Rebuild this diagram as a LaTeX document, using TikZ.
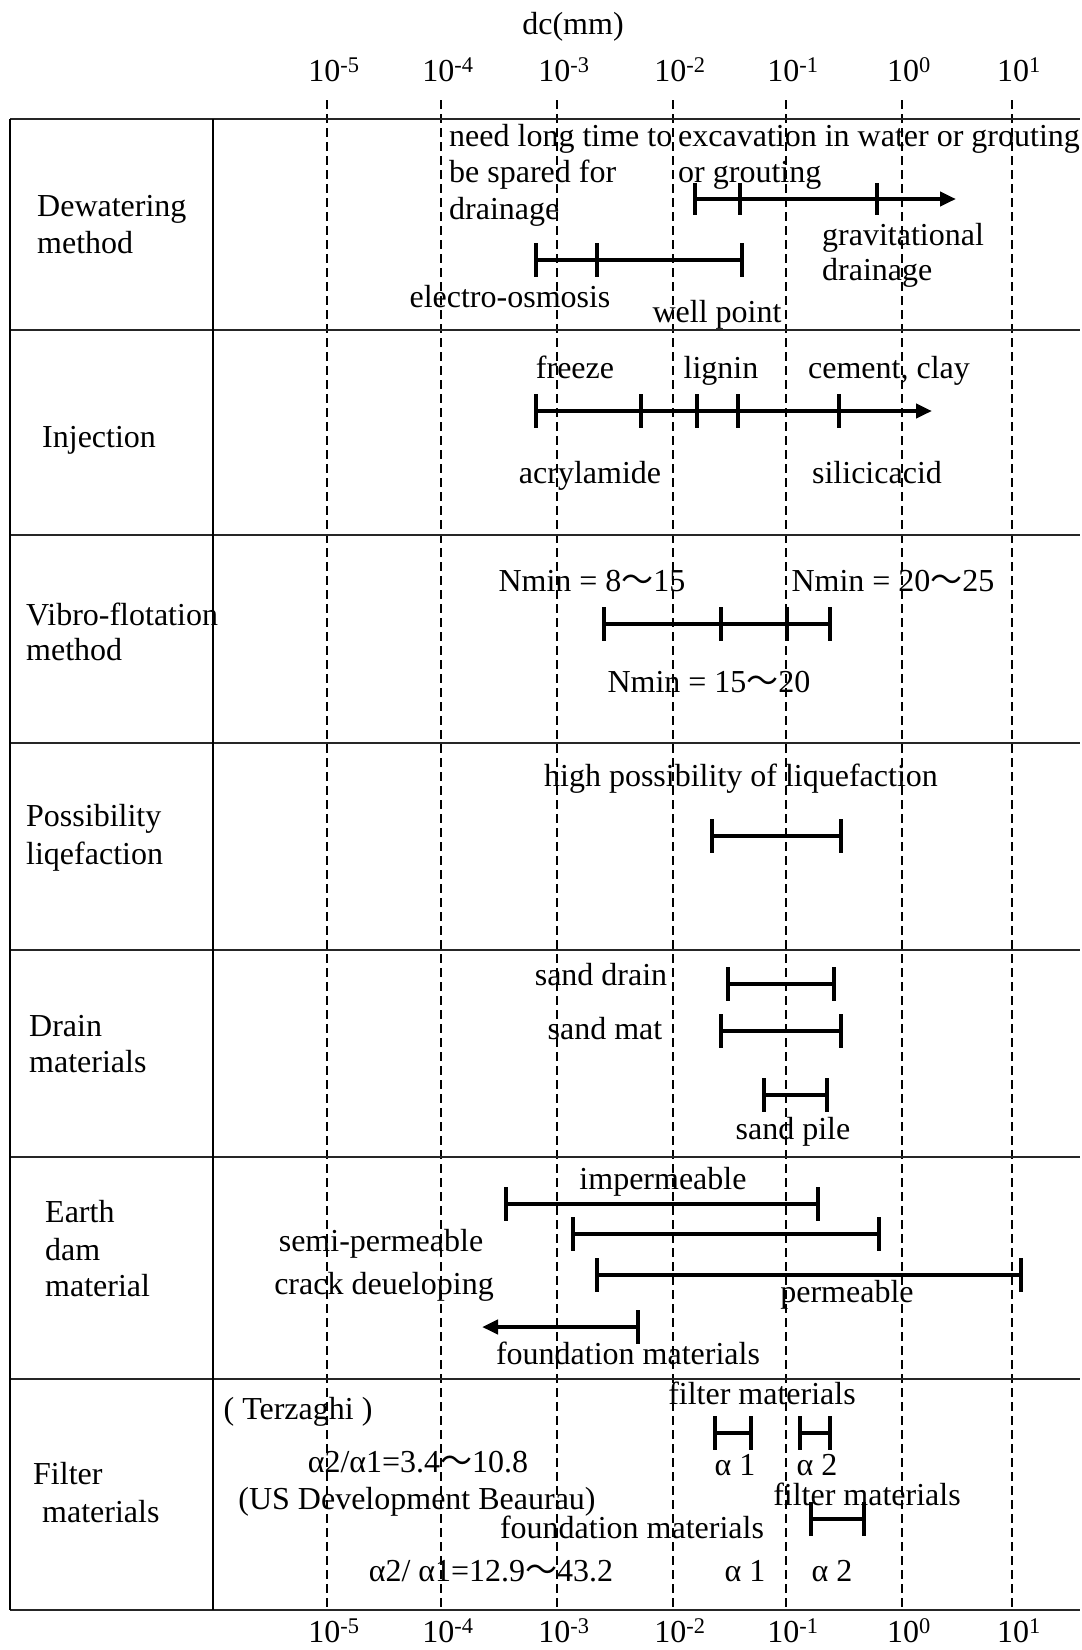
\documentclass[tikz,border=0pt]{standalone}
\usepackage{fontspec}
\setmainfont{Liberation Serif}
\newfontfamily\cjk{Noto Sans CJK SC}
\usetikzlibrary{arrows.meta}
\newcommand{\wave}{{\cjk ～}}

\begin{document}
\begin{tikzpicture}[x=1pt,y=-1pt,font=\fontsize{32}{37}\selectfont,
  rangebar/.style={line width=4.2pt},
  rangetick/.style={line width=3.3pt},
  gridline/.style={line width=1.3pt,dash pattern=on 9pt off 5pt},
  rowline/.style={line width=2.5pt,black!85},
  lbl/.style={inner sep=0pt,anchor=mid,yshift=-7.5pt},
  lft/.style={inner sep=0pt,anchor=mid west,yshift=-7.5pt},
  tip/.style={-{Triangle[length=16pt,width=14pt]}}]

\useasboundingbox (0,0) rectangle (1082,1650);

% axes
\node[lbl] (dc) at (573,25) {dc(mm)};
\foreach \e/\xx in {-5/327,-4/441,-3/557,-2/673,-1/786,0/902,1/1012}{
  \draw[gridline] (\xx,100) -- (\xx,1610);
  \node[lbl] (top\xx) at (\xx+7,72) {10\textsuperscript{\e}};
  \node[lbl] (bot\xx) at (\xx+7,1633) {10\textsuperscript{\e}};
}

% table
\foreach \yy in {119,330,535,743,950,1157,1379,1610}
  \draw[rowline] (10,\yy) -- (1080,\yy);
\draw[line width=1.5pt] (10,119) -- (10,1610);
\draw[line width=1.5pt] (213,119) -- (213,1610);

% dewatering
\node[lft] (dew1) at (37,207) {Dewatering};
\node[lft] (dew2) at (37,244) {method};
\node[lft] (need1) at (449,137) {need long time to};
\node[lft] (need2) at (449,173) {be spared for};
\node[lft] (need3) at (449,210) {drainage};
\node[lft] (exc1) at (678,137) {excavation in water or grouting};
\node[lft] (exc2) at (678,173) {or grouting};
\node[lft] (grav1) at (822,236) {gravitational};
\node[lft] (grav2) at (822,271) {drainage};
\node[lbl] (electro) at (510,298) {electro-osmosis};
\node[lbl] (wellpt) at (717,313) {well point};
\draw[rangebar,tip] (695,199) -- (956,199);
\foreach \t in {695,740,877} \draw[rangetick] (\t,183) -- (\t,215);
\draw[rangebar] (536,260) -- (742,260);
\foreach \t in {536,597,742} \draw[rangetick] (\t,243) -- (\t,277);

% injection
\node[lft] (inj) at (42,438) {Injection};
\node[lbl] (freeze) at (575,369) {freeze};
\node[lbl] (lignin) at (721,369) {lignin};
\node[lbl] (cement) at (889,369) {cement, clay};
\node[lbl] (acryl) at (590,474) {acrylamide};
\node[lbl] (silic) at (877,474) {silicicacid};
\draw[rangebar,tip] (536,411) -- (932,411);
\foreach \t in {536,641,697,738,839} \draw[rangetick] (\t,394) -- (\t,428);

% vibro-flotation
\node[lft] (vib1) at (26,616) {Vibro-flotation};
\node[lft] (vib2) at (26,651) {method};
\node[lbl] (nmina) at (592,582) {Nmin = 8\wave15};
\node[lbl] (nminc) at (893,582) {Nmin = 20\wave25};
\node[lbl] (nminb) at (709,683) {Nmin = 15\wave20};
\draw[rangebar] (604,624) -- (830,624);
\foreach \t in {604,721,787,830} \draw[rangetick] (\t,607) -- (\t,641);

% liquefaction
\node[lft] (liq1) at (26,817) {Possibility};
\node[lft] (liq2) at (26,855) {liqefaction};
\node[lbl] (highliq) at (741,777) {high possibility of liquefaction};
\draw[rangebar] (712,836) -- (841,836);
\foreach \t in {712,841} \draw[rangetick] (\t,819) -- (\t,853);

% drain materials
\node[lft] (drn1) at (29,1027) {Drain};
\node[lft] (drn2) at (29,1063) {materials};
\node[lbl] (sdrain) at (601,976) {sand drain};
\node[lbl] (smat) at (605,1030) {sand mat};
\node[lbl] (spile) at (793,1130) {sand pile};
\draw[rangebar] (728,984) -- (834,984);
\foreach \t in {728,834} \draw[rangetick] (\t,967) -- (\t,1001);
\draw[rangebar] (721,1031) -- (841,1031);
\foreach \t in {721,841} \draw[rangetick] (\t,1014) -- (\t,1048);
\draw[rangebar] (764,1095) -- (827,1095);
\foreach \t in {764,827} \draw[rangetick] (\t,1078) -- (\t,1112);

% earth dam
\node[lft] (dam1) at (45,1213) {Earth};
\node[lft] (dam2) at (45,1251) {dam};
\node[lft] (dam3) at (45,1287) {material};
\node[lbl] (imperm) at (663,1180) {impermeable};
\node[lbl] (semi) at (381,1242) {semi-permeable};
\node[lbl] (crack) at (384,1285) {crack deueloping};
\node[lbl] (perm) at (847,1293) {permeable};
\node[lbl] (found1) at (628,1355) {foundation materials};
\draw[rangebar] (506,1204) -- (818,1204);
\foreach \t in {506,818} \draw[rangetick] (\t,1187) -- (\t,1221);
\draw[rangebar] (573,1234) -- (879,1234);
\foreach \t in {573,879} \draw[rangetick] (\t,1217) -- (\t,1251);
\draw[rangebar] (597,1275) -- (1021,1275);
\foreach \t in {597,1021} \draw[rangetick] (\t,1258) -- (\t,1292);
\draw[rangebar,tip] (638,1327) -- (482,1327);
\draw[rangetick] (638,1310) -- (638,1344);

% filter materials
\node[lft] (flt1) at (33,1475) {Filter};
\node[lft] (flt2) at (42,1513) {materials};
\node[lbl] (filt1) at (762,1395) {filter materials};
\node[lbl] (terz) at (298,1410) {( Terzaghi )};
\node[lbl] (aa1) at (735,1466) {α 1};
\node[lbl] (ab1) at (817,1466) {α 2};
\node[lbl] (ratio1) at (418,1463) {α2/α1=3.4\wave10.8};
\node[lbl] (usdb) at (417,1500) {(US Development Beaurau)};
\node[lbl] (filt2) at (867,1496) {filter materials};
\node[lbl] (found2) at (632,1529) {foundation materials};
\node[lbl] (ratio2) at (491,1572) {α2/ α1=12.9\wave43.2};
\node[lbl] (aa2) at (745,1572) {α 1};
\node[lbl] (ab2) at (832,1572) {α 2};
\draw[rangebar] (715,1433) -- (751,1433);
\foreach \t in {715,751} \draw[rangetick] (\t,1416) -- (\t,1450);
\draw[rangebar] (800,1433) -- (830,1433);
\foreach \t in {800,830} \draw[rangetick] (\t,1416) -- (\t,1450);
\draw[rangebar] (811,1519) -- (864,1519);
\foreach \t in {811,864} \draw[rangetick] (\t,1502) -- (\t,1536);
\end{tikzpicture}
\end{document}
